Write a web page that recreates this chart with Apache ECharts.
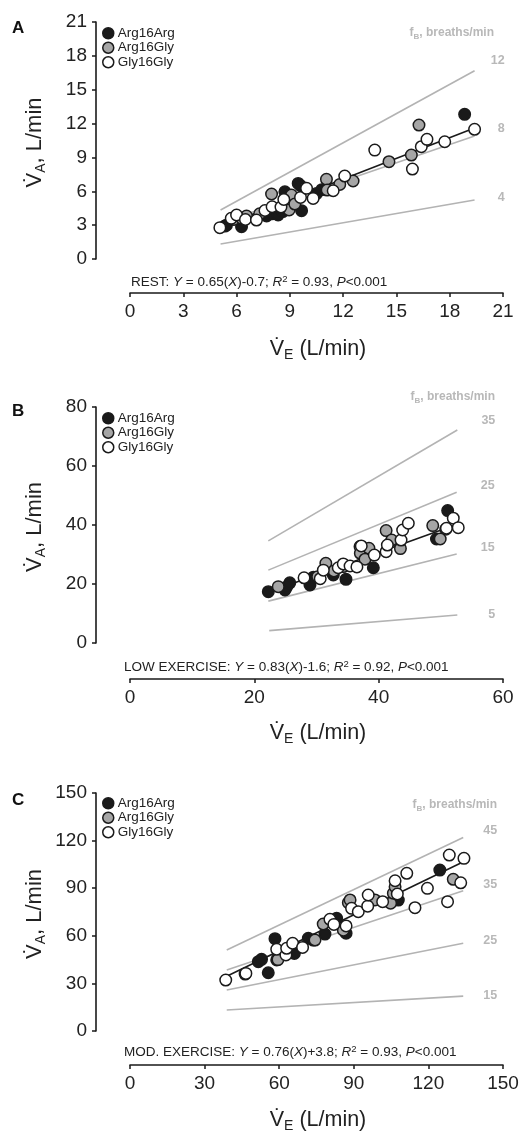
<!DOCTYPE html>
<html><head><meta charset="utf-8">
<script src="https://cdn.jsdelivr.net/npm/echarts/dist/echarts.min.js"></script>
<style>html,body{margin:0;padding:0;background:#fff}#c{width:522px;height:1131px}</style>
</head><body><div id="c"></div>
<script>
// ---------------- DATA ----------------
var genotypes = ['Arg16Arg', 'Arg16Gly', 'Gly16Gly'];

// Panel A (REST)
var restArgArg = [[5.34,2.92],[5.43,3.0],[6.28,2.86],[7.69,3.81],[8.0,4.0],[8.34,3.9],[8.44,4.49],[8.6,4.2],[8.72,5.96],[9.47,6.7],[9.6,6.5],[9.66,4.28],[10.5,5.8],[10.8,6.14],[18.84,12.82]];
var restArgGly = [[5.85,3.51],[6.3,3.6],[6.56,3.81],[7.3,4.0],[7.97,5.76],[8.96,4.34],[9.09,5.67],[9.28,4.87],[11.06,7.06],[11.1,6.11],[11.81,6.61],[12.56,6.91],[14.58,8.62],[15.84,9.21],[16.27,11.87]];
var restGlyGly = [[5.06,2.78],[5.7,3.6],[6.0,3.9],[6.5,3.5],[7.12,3.45],[7.6,4.3],[8.0,4.63],[8.5,4.6],[8.66,5.28],[9.6,5.46],[9.94,6.26],[10.31,5.37],[11.44,6.05],[12.09,7.35],[13.78,9.65],[15.9,7.97],[16.4,9.95],[16.72,10.6],[17.72,10.39],[19.4,11.49]];
var restFit = [[5.1,2.86],[19.4,11.6]];
var restIsoLabels = ['12','8','4'];
var restIso = [[[5.1,4.34],[19.4,16.68]], [[5.1,3.2],[19.4,10.9]], [[5.1,1.33],[19.4,5.23]]];
var restXTicks = [0,3,6,9,12,15,18,21];
var restYTicks = [0,3,6,9,12,15,18,21];
var restEq = 'REST: {i|Y} = 0.65({i|X})-0.7; {i|R}{sup|2} = 0.93, {i|P}<0.001';

// Panel B (LOW EXERCISE)
var lowArgArg = [[22.25,17.4],[24.93,17.97],[25.2,19.0],[25.7,20.4],[28.95,19.66],[29.5,22.3],[32.7,23.05],[34.74,21.6],[37.8,29.3],[39.14,25.5],[49.3,35.25],[51.1,44.9]];
var lowArgGly = [[23.85,19.1],[30.2,22.5],[31.5,27.0],[32.8,24.4],[34.3,25.9],[37.0,32.7],[37.05,30.4],[38.44,32.1],[37.8,28.4],[41.2,38.1],[42.1,34.9],[43.5,32.0],[48.7,39.8],[50.8,38.6],[49.9,35.25]];
var lowGlyGly = [[28.0,22.1],[30.6,21.8],[31.1,24.7],[33.5,25.5],[34.3,26.8],[35.4,26.1],[36.5,25.8],[37.2,32.9],[39.3,29.8],[41.2,30.95],[41.4,33.2],[43.6,34.9],[43.86,38.3],[44.77,40.6],[50.9,38.9],[52.0,42.3],[52.8,39.1]];
var lowFit = [[22.25,17.2],[52.97,40.5]];
var lowIsoLabels = ['35','25','15','5'];
var lowIso = [[[22.25,34.6],[52.65,72.2]], [[22.25,24.7],[52.55,51.1]], [[22.25,14.2],[52.55,30.2]], [[22.4,4.2],[52.65,9.5]]];
var lowXTicks = [0,20,40,60];
var lowYTicks = [0,20,40,60,80];
var lowEq = 'LOW EXERCISE: {i|Y} = 0.83({i|X})-1.6; {i|R}{sup|2} = 0.92, {i|P}<0.001';

// Panel C (MOD. EXERCISE)
var modArgArg = [[51.6,43.7],[52.9,45.2],[55.6,36.7],[58.3,58.2],[59,44.8],[66.1,48.9],[71.7,58.4],[73.7,57.3],[78.4,61.1],[83.1,71.0],[86.9,61.6],[107.9,82.5],[124.6,101.4]];
var modArgGly = [[46.3,35.9],[59.5,45.0],[74.4,57.3],[77.7,67.4],[85.8,63.5],[87.8,80.9],[88.5,82.6],[98.5,82.6],[104.8,80.5],[105.9,86.8],[106.6,90.9],[130.0,95.6]];
var modGlyGly = [[38.5,32.1],[46.6,36.3],[59.0,51.5],[62.7,47.9],[63.0,52.1],[65.4,55.3],[69.4,52.7],[80.4,70.4],[82.0,67.2],[86.9,66.2],[89.1,77.3],[91.8,75.2],[95.6,78.7],[95.8,85.7],[101.6,81.5],[106.6,94.7],[107.5,86.3],[111.3,99.4],[114.6,77.7],[119.6,89.9],[127.7,81.5],[128.4,110.9],[133.0,93.4],[134.3,108.8]];
var modFit = [[38.9,34.5],[134.5,107.0]];
var modIsoLabels = ['45','35','25','15'];
var modIso = [[[38.9,51.0],[134,122.0]], [[38.9,38.4],[134,88.4]], [[38.9,25.8],[134,55.3]], [[38.9,13.2],[134,22.0]]];
var modXTicks = [0,30,60,90,120,150];
var modYTicks = [0,30,60,90,120,150];
var modEq = 'MOD. EXERCISE: {i|Y} = 0.76({i|X})+3.8; {i|R}{sup|2} = 0.93, {i|P}<0.001';

var panelLetters = ['A','B','C'];

// ---------------- LAYOUT / STYLE ----------------
var FONT = '"Liberation Sans", Arial, Helvetica, sans-serif';
var INK = '#1a1a1a';
var ISO = '#b3b3b3';
var fills = ['#1a1a1a', '#a6a6a6', '#ffffff'];

var panels = [
  {top:22, height:237, xoff:34, xT:restXTicks, yT:restYTicks, pts:[restArgArg,restArgGly,restGlyGly], fit:restFit, iso:restIso, isoL:restIsoLabels,
   isoOff:[[30,-10],[30,-7],[30,-2]], eq:restEq, eqX:131, eqY:282, legTop:26, fbY:33, fbX:494, xnameY:349, letterY:20},
  {top:407, height:236, xoff:36, xT:lowXTicks, yT:lowYTicks, pts:[lowArgArg,lowArgGly,lowGlyGly], fit:lowFit, iso:lowIso, isoL:lowIsoLabels,
   isoOff:[[38,-9],[38,-7],[38,-6],[38,0]], eq:lowEq, eqX:124, eqY:667, legTop:411, fbY:397, fbX:495, xnameY:733, letterY:403},
  {top:793, height:238, xoff:34, xT:modXTicks, yT:modYTicks, pts:[modArgArg,modArgGly,modGlyGly], fit:modFit, iso:modIso, isoL:modIsoLabels,
   isoOff:[[34,-7],[34,-6],[34,-3],[34,-1]], eq:modEq, eqX:124, eqY:1052, legTop:796, fbY:805, fbX:497, xnameY:1120, letterY:792}
];

var grids = [], xAxes = [], yAxes = [], series = [], legends = [], graphics = [];

panels.forEach(function (p, i) {
  grids.push({left:130, width:373, top:p.top, height:p.height, containLabel:false});
  var xt = p.xT, yt = p.yT;
  var axisCommon = {
    gridIndex:i, type:'value',
    axisLine:{show:true, onZero:false, lineStyle:{color:INK, width:1.6}},
    axisTick:{show:true, inside:false, length:4, lineStyle:{color:INK, width:1.5}},
    axisLabel:{fontFamily:FONT, fontSize:19, color:'#222', margin:9},
    splitLine:{show:false}
  };
  xAxes.push(Object.assign({}, axisCommon, {position:'bottom', offset:p.xoff, min:xt[0], max:xt[xt.length-1], interval:xt[1]-xt[0]}));
  yAxes.push(Object.assign({}, axisCommon, {position:'left', offset:34, min:yt[0], max:yt[yt.length-1], interval:yt[1]-yt[0]}));

  // iso f_B lines
  p.iso.forEach(function (seg, k) {
    series.push({
      type:'line', xAxisIndex:i, yAxisIndex:i, data:seg, symbol:'none', silent:true,
      lineStyle:{color:ISO, width:1.6}, z:1,
      endLabel:{show:true, formatter:p.isoL[k], color:'#b8b8b8', fontFamily:FONT, fontWeight:'bold', fontSize:12.5,
        align:'right', verticalAlign:'middle', distance:0, offset:p.isoOff[k]}
    });
  });
  // regression line
  series.push({type:'line', xAxisIndex:i, yAxisIndex:i, data:p.fit, symbol:'none', silent:true,
    lineStyle:{color:INK, width:1.6}, z:2});
  // scatter
  p.pts.forEach(function (pts, g) {
    series.push({
      name:genotypes[g], type:'scatter', xAxisIndex:i, yAxisIndex:i, data:pts, symbol:'circle', symbolSize:11.5, z:3+g,
      itemStyle:{color:fills[g], borderColor:INK, borderWidth:1.5, opacity:1}
    });
  });

  legends.push({
    left:102, top:p.legTop, padding:0, orient:'vertical', data:genotypes, icon:'circle',
    itemWidth:11, itemHeight:11, itemGap:0, selectedMode:false,
    itemStyle:{borderColor:INK, borderWidth:1.5},
    textStyle:{fontFamily:FONT, fontSize:13.5, color:'#222', lineHeight:14.5, padding:[0,0,0,-1]}
  });

  var midY = p.top + p.height/2;
  graphics.push(
    {type:'text', x:12, y:p.letterY, style:{text:panelLetters[i], font:'bold 17px ' + FONT, fill:'#111'}},
    {type:'text', x:35, y:midY + 2, rotation:Math.PI/2,
      style:{text:'{v|V\u0307}{s|A}{v|, L/min}', align:'center', verticalAlign:'middle', textAlign:'center', textVerticalAlign:'middle',
        rich:{v:{fontFamily:FONT, fontSize:22, fill:'#222', lineHeight:26, verticalAlign:'middle'},
              s:{fontFamily:FONT, fontSize:14, fill:'#222', lineHeight:26, verticalAlign:'bottom'}}}},
    {type:'text', x:318, y:p.xnameY,
      style:{text:'{v|V\u0307}{s|E}{v| (L/min)}', align:'center', verticalAlign:'middle', textAlign:'center', textVerticalAlign:'middle',
        rich:{v:{fontFamily:FONT, fontSize:21.5, fill:'#222', lineHeight:26, verticalAlign:'middle'},
              s:{fontFamily:FONT, fontSize:14, fill:'#222', lineHeight:26, verticalAlign:'bottom'}}}},
    {type:'text', x:p.fbX, y:p.fbY,
      style:{text:'{f|f}{fs|B}{f|, breaths/min}', align:'right', verticalAlign:'middle', textAlign:'right', textVerticalAlign:'middle',
        rich:{f:{fontFamily:FONT, fontSize:12, fontWeight:'bold', fill:'#b8b8b8', lineHeight:16, verticalAlign:'middle'},
              fs:{fontFamily:FONT, fontSize:8, fontWeight:'bold', fill:'#b8b8b8', lineHeight:16, verticalAlign:'bottom'}}}},
    {type:'text', x:p.eqX, y:p.eqY,
      style:{text:p.eq, align:'left', verticalAlign:'middle', textAlign:'left', textVerticalAlign:'middle',
        fontFamily:FONT, fontSize:13.5, fill:'#222',
        rich:{i:{fontFamily:FONT, fontSize:13.5, fontStyle:'italic', fill:'#222', lineHeight:16, verticalAlign:'middle'},
              sup:{fontFamily:FONT, fontSize:9.5, fill:'#222', lineHeight:16, verticalAlign:'top'}}}}
  );
});

var chart = echarts.init(document.getElementById('c'), null, {renderer:'canvas'});
chart.setOption({
  animation:false,
  backgroundColor:'#ffffff',
  textStyle:{fontFamily:FONT},
  grid:grids, xAxis:xAxes, yAxis:yAxes, series:series, legend:legends, graphic:graphics
});
</script></body></html>
